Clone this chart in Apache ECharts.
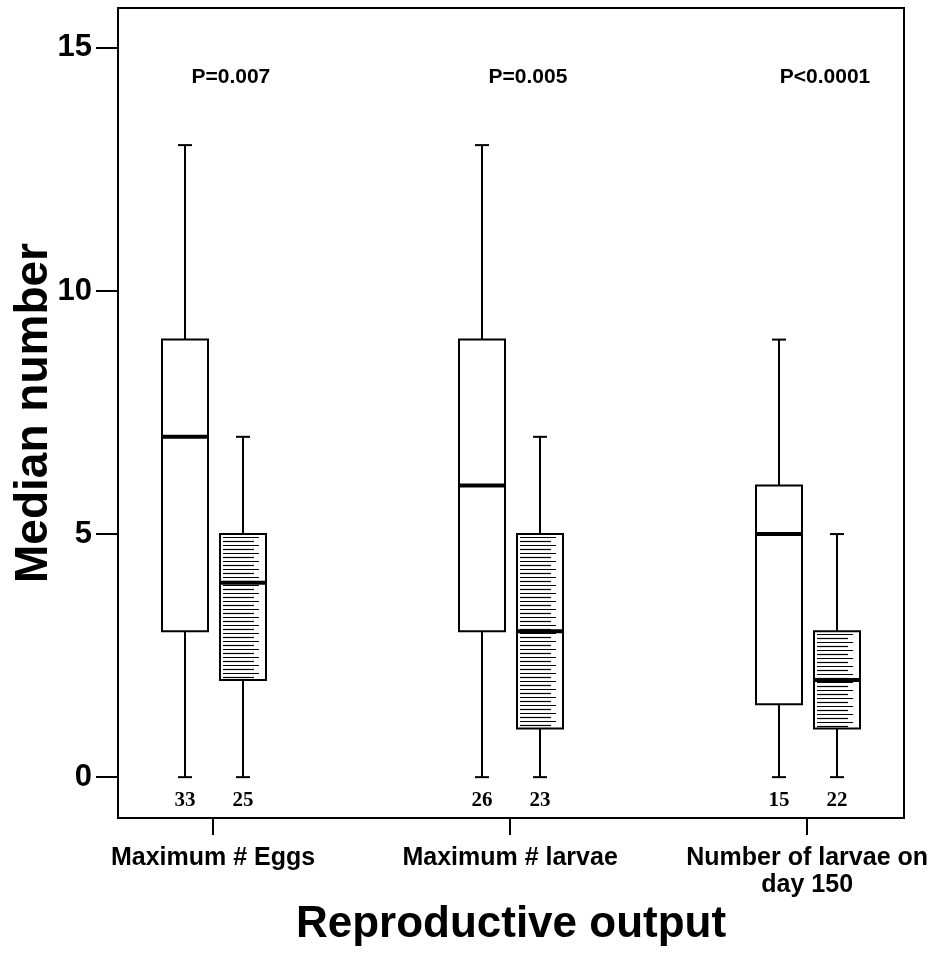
<!DOCTYPE html>
<html>
<head>
<meta charset="utf-8">
<script src="https://cdn.jsdelivr.net/npm/echarts@6/dist/echarts.min.js"></script>
<style>
html,body{margin:0;padding:0;background:#fff;}
#chart{width:940px;height:958px;}
</style>
</head>
<body>
<div id="chart"></div>
<script>
// ---- data ----
const categories = ['Maximum # Eggs', 'Maximum # larvae', 'Number of larvae on\nday 150'];
// [min, q1, median, q3, max]
const openBoxes = [[0, 3, 7, 9, 13], [0, 3, 6, 9, 13], [0, 1.5, 5, 6, 9]];
const hatchedBoxes = [[0, 2, 4, 5, 7], [0, 1, 3, 5, 7], [0, 1, 2, 3, 5]];
const openN = [33, 26, 15];
const hatchedN = [25, 23, 22];
const pValues = ['P=0.007', 'P=0.005', 'P<0.0001'];
const pLevel = 14.4;
const yTicks = [0, 5, 10, 15];
const xTicks = [0, 1, 2];

const SANS = "'Liberation Sans', Arial, Helvetica, sans-serif";
const SERIF = "'Liberation Serif', 'Times New Roman', serif";

function makeRender(boxes, ns, hatched) {
  return function (params, api) {
    const g = api.value(0);
    const s = boxes[params.dataIndex];
    const unit = api.size([1, 0])[0];
    const off = hatched ? 0.101 : -0.094;
    const cx = Math.round(api.coord([g, 0])[0] + off * unit);
    const hw = Math.round(0.0775 * unit);
    const y = s.map(v => api.coord([g, v])[1]);
    const y0 = api.coord([g, 0])[1];
    const black = '#000';
    const children = [];
    const ln = (x1, y1, x2, y2, w) => ({
      type: 'line', shape: { x1, y1, x2, y2 },
      style: { stroke: black, lineWidth: w || 2 }
    });
    // whiskers
    children.push(ln(cx, y[4], cx, y[3]));
    children.push(ln(cx - 7, y[4], cx + 7, y[4]));
    children.push(ln(cx, y[1], cx, y[0]));
    children.push(ln(cx - 7, y[0], cx + 7, y[0]));
    // box
    children.push({
      type: 'rect',
      shape: { x: cx - hw, y: y[3], width: 2 * hw, height: y[1] - y[3] },
      style: { fill: '#fff', stroke: black, lineWidth: 2 }
    });
    if (hatched) {
      let k = 0;
      for (let yy = Math.round(y[3]) + 3.5; yy < y[1] - 2; yy += 4) {
        const xe = (k % 2 === 0) ? cx + hw - 7 : cx + hw - 12;
        children.push(ln(cx - hw + 3, yy, xe, yy, 1.2));
        k++;
      }
    }
    // median
    children.push(ln(cx - hw, y[2], cx + hw, y[2], 4));
    // n label
    children.push({
      type: 'text',
      style: {
        text: String(ns[params.dataIndex]), x: cx, y: y0 + 23,
        align: 'center', verticalAlign: 'middle',
        font: 'bold 21px ' + SERIF, fill: black
      }
    });
    return { type: 'group', children };
  };
}

const chart = echarts.init(document.getElementById('chart'), null, { renderer: 'canvas' });
chart.setOption({
  animation: false,
  backgroundColor: '#fff',
  grid: {
    left: 118, top: 8, right: 36, bottom: 140, outerBoundsMode: 'none', containLabel: false,
    show: true, borderColor: '#000', borderWidth: 2, backgroundColor: 'transparent'
  },
  xAxis: {
    type: 'value', min: -0.32, max: 2.326,
    splitLine: { show: false },
    axisLine: { show: true, onZero: false, lineStyle: { color: '#000', width: 2 } },
    axisTick: { show: true, customValues: xTicks, length: 17, lineStyle: { color: '#000', width: 2 } },
    axisLabel: {
      customValues: xTicks, margin: 27,
      formatter: v => categories[Math.round(v)] || '',
      color: '#000', fontFamily: SANS, fontWeight: 'bold', fontSize: 25, lineHeight: 27
    },
    name: 'Reproductive output', nameLocation: 'middle', nameGap: 85, nameMoveOverlap: false,
    nameTextStyle: { color: '#000', fontFamily: SANS, fontWeight: 'bold', fontSize: 44 }
  },
  yAxis: {
    type: 'value', min: -0.84, max: 15.82,
    splitLine: { show: false },
    axisLine: { show: true, onZero: false, lineStyle: { color: '#000', width: 2 } },
    axisTick: { show: true, customValues: yTicks, length: 22, lineStyle: { color: '#000', width: 2 } },
    axisLabel: {
      customValues: yTicks, margin: 26,
      color: '#000', fontFamily: SANS, fontWeight: 'bold', fontSize: 31
    },
    name: 'Median number', nameLocation: 'middle', nameGap: 61, nameMoveOverlap: false,
    nameTextStyle: { color: '#000', fontFamily: SANS, fontWeight: 'bold', fontSize: 46 }
  },
  series: [
    {
      type: 'custom', name: 'open',
      renderItem: makeRender(openBoxes, openN, false),
      data: openBoxes.map((b, i) => [i].concat(b)),
      encode: { x: 0, y: [1, 2, 3, 4, 5] }, clip: false, z: 3
    },
    {
      type: 'custom', name: 'hatched',
      renderItem: makeRender(hatchedBoxes, hatchedN, true),
      data: hatchedBoxes.map((b, i) => [i].concat(b)),
      encode: { x: 0, y: [1, 2, 3, 4, 5] }, clip: false, z: 3
    },
    {
      type: 'custom', name: 'p',
      renderItem: function (params, api) {
        const unit = api.size([1, 0])[0];
        const p = api.coord([api.value(0), api.value(1)]);
        return {
          type: 'text',
          style: {
            text: pValues[params.dataIndex], x: p[0] + 0.06 * unit, y: p[1],
            align: 'center', verticalAlign: 'middle',
            font: 'bold 21px ' + SANS, fill: '#000'
          }
        };
      },
      data: pValues.map((t, i) => [i, pLevel]),
      encode: { x: 0, y: 1 }, z: 3
    }
  ]
});
</script>
</body>
</html>
